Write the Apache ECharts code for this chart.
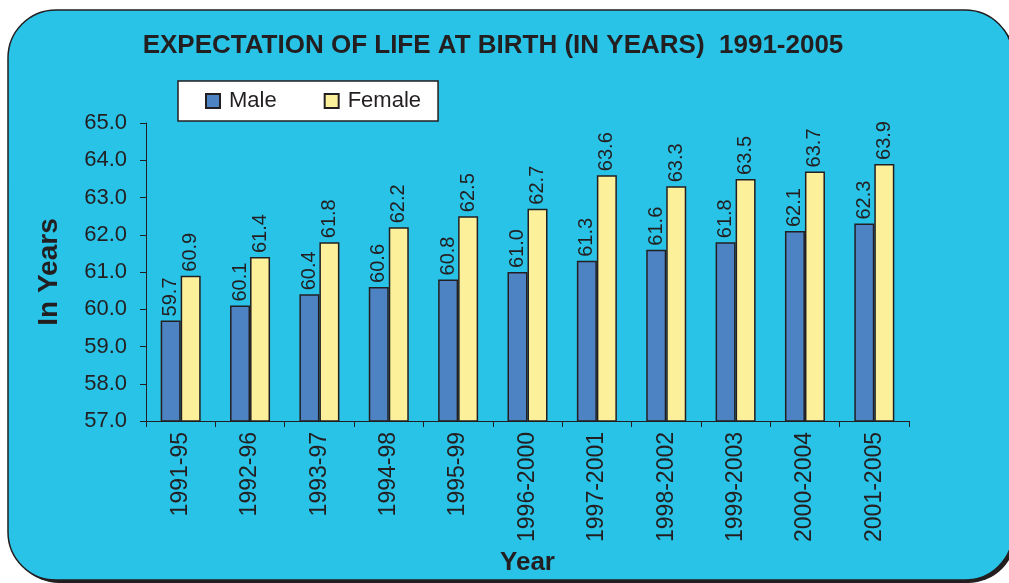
<!DOCTYPE html>
<html>
<head>
<meta charset="utf-8">
<script src="https://cdn.jsdelivr.net/npm/echarts@6/dist/echarts.min.js"></script>
<style>
  html, body { margin: 0; padding: 0; background: #ffffff; }
  #chart { width: 1009px; height: 583px; }
</style>
</head>
<body>
<div id="chart"></div>
<script>
// data
const years = ['1991-95', '1992-96', '1993-97', '1994-98', '1995-99', '1996-2000',
    '1997-2001', '1998-2002', '1999-2003', '2000-2004', '2001-2005'];
const maleValues = [59.7, 60.1, 60.4, 60.6, 60.8, 61.0, 61.3, 61.6, 61.8, 62.1, 62.3];
const femaleValues = [60.9, 61.4, 61.8, 62.2, 62.5, 62.7, 63.6, 63.3, 63.5, 63.7, 63.9];

const chart = echarts.init(document.getElementById('chart'));

const FONT = 'Liberation Sans, Arial, sans-serif';
const INK = '#231f20';

// rotated value label on top of each bar
const valueLabel = {
    show: true,
    position: 'top',
    distance: 4,
    rotate: 90,
    align: 'left',
    verticalAlign: 'middle',
    fontFamily: FONT,
    fontSize: 20,
    color: INK,
    formatter: p => p.value.toFixed(1)
};

const option = {
    animation: false,
    backgroundColor: '#ffffff',
    graphic: [
        {
            type: 'rect',
            z: -10,
            shape: { x: 11, y: 13, width: 1005, height: 570, r: 48 },
            style: { fill: INK }
        },
        {
            type: 'rect',
            z: -9,
            shape: { x: 8, y: 10, width: 1005, height: 570, r: 48 },
            style: { fill: '#29c3e8', stroke: INK, lineWidth: 1.5 }
        }
    ],
    title: {
        text: 'EXPECTATION OF LIFE AT BIRTH (IN YEARS)  1991-2005',
        left: 488,
        textAlign: 'center',
        top: 28,
        textStyle: {
            fontFamily: FONT,
            fontSize: 26,
            fontWeight: 'bold',
            color: INK
        }
    },
    legend: {
        left: 178,
        top: 81,
        padding: [9, 17, 9, 27],
        itemGap: 47,
        itemWidth: 14,
        itemHeight: 14,
        backgroundColor: '#ffffff',
        borderColor: INK,
        borderWidth: 1.5,
        borderRadius: 0,
        icon: 'rect',
        textStyle: {
            fontFamily: FONT,
            fontSize: 22,
            color: INK,
            padding: [0, 0, 0, 4]
        },
        data: ['Male', 'Female']
    },
    grid: {
        left: 146,
        right: 100,
        top: 123,
        bottom: 162
    },
    xAxis: {
        type: 'category',
        data: years,
        name: 'Year',
        nameLocation: 'middle',
        nameGap: 122,
        nameTextStyle: {
            fontFamily: FONT,
            fontSize: 26,
            fontWeight: 'bold',
            color: INK
        },
        axisLine: { lineStyle: { color: INK, width: 1 } },
        axisTick: { show: true, length: 6, lineStyle: { color: INK } },
        axisLabel: {
            rotate: 90,
            margin: 11,
            fontFamily: FONT,
            fontSize: 23,
            color: INK
        }
    },
    yAxis: {
        type: 'value',
        min: 57,
        max: 65,
        interval: 1,
        name: 'In Years',
        nameLocation: 'middle',
        nameGap: 83,
        nameTextStyle: {
            fontFamily: FONT,
            fontSize: 28,
            fontWeight: 'bold',
            color: INK
        },
        axisLine: { show: true, lineStyle: { color: INK, width: 1 } },
        axisTick: { show: true, length: 6, lineStyle: { color: INK } },
        splitLine: { show: false },
        axisLabel: {
            margin: 19,
            fontFamily: FONT,
            fontSize: 22,
            color: INK,
            formatter: v => v.toFixed(1)
        }
    },
    series: [
        {
            name: 'Male',
            type: 'bar',
            data: maleValues,
            barWidth: 20,
            barGap: '0%',
            itemStyle: { color: '#4d82c3', borderColor: INK, borderWidth: 1.5 },
            label: valueLabel
        },
        {
            name: 'Female',
            type: 'bar',
            data: femaleValues,
            barWidth: 20,
            itemStyle: { color: '#fdf09b', borderColor: INK, borderWidth: 1.5 },
            label: valueLabel
        }
    ]
};

chart.setOption(option);
</script>
</body>
</html>
